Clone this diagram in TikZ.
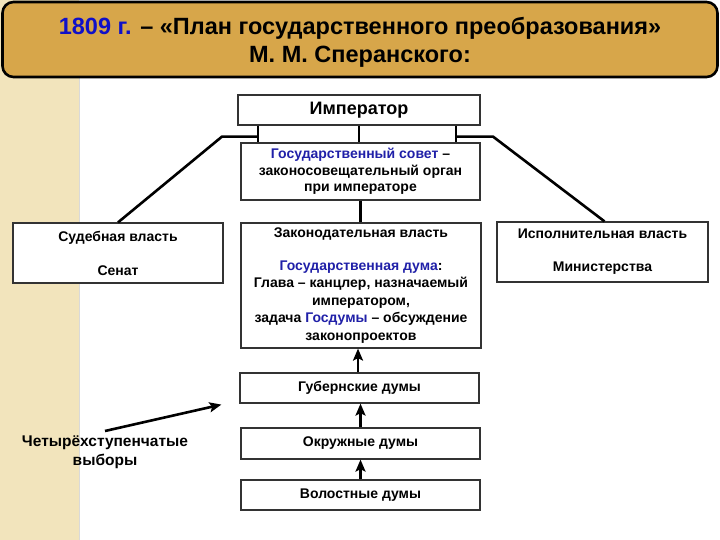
\documentclass[tikz,border=0pt]{standalone}
\usepackage{fontspec}
\setmainfont{Liberation Sans}
\usetikzlibrary{arrows.meta,calc}
\definecolor{stripe}{HTML}{F2E4BC}
\definecolor{gold}{HTML}{D7A64A}
\definecolor{tblue}{HTML}{1010C8}
\definecolor{dblue}{HTML}{2020A8}
\tikzset{
  box/.style={draw=black!80, line width=1.2pt, fill=white, align=center,
    font=\fontsize{14}{17}\selectfont\bfseries, inner sep=0pt},
  conn/.style={line width=2.6pt, black},
  arr/.style={line width=2.6pt, black, -{Stealth[length=12pt,width=10pt,inset=2.5pt]}},
}
\begin{document}
\begin{tikzpicture}[x=1pt,y=-1pt]
\useasboundingbox (0,0) rectangle (720,540);
\fill[stripe] (0,0) rectangle (79,540);
\draw[black!15] (79,78) -- (79,540);
% title
\node[draw=black, line width=2.6pt, fill=gold, rounded corners=11pt,
  minimum width=715pt, minimum height=75pt, inner sep=0pt] (title) at (360,39.5) {};
\node[align=center, inner sep=0pt, font=\fontsize{23.5}{28}\selectfont\bfseries] (ttext) at (360,42.5)
  {\textcolor{tblue}{1809 г.} – «План государственного преобразования»\\М. М. Сперанского:};
% boxes
\node[box, minimum width=242pt, minimum height=30pt, font=\fontsize{18}{20}\selectfont\bfseries] (emp) at (359,110) {Император};
\node[box, minimum width=239pt, minimum height=57pt, font=\fontsize{14}{16.5}\selectfont\bfseries] (gs) at (360.5,171.5)
  {\textcolor{dblue}{Государственный совет} –\\законосовещательный орган\\при императоре};
\node[box, minimum width=210pt, minimum height=60pt] (jud) at (118,253)
  {Судебная власть\\[17pt]Сенат};
\node[box, minimum width=211pt, minimum height=60pt] (exe) at (602.5,252)
  {Исполнительная власть\\[16pt]Министерства};
\node[box, minimum width=240pt, minimum height=125pt, font=\fontsize{14}{17.5}\selectfont\bfseries] (leg) at (361,285.5)
  {Законодательная власть\\[15pt]\textcolor{dblue}{Государственная дума}:\\Глава – канцлер, назначаемый\\императором,\\задача \textcolor{dblue}{Госдумы} – обсуждение\\законопроектов};
\node[box, minimum width=239pt, minimum height=30pt] (gub) at (359.5,388) {Губернские думы};
\node[box, minimum width=239pt, minimum height=31pt] (okr) at (360.5,443.5) {Окружные думы};
\node[box, minimum width=239pt, minimum height=30pt] (vol) at (360.5,495) {Волостные думы};
\node[align=center, font=\fontsize{15.5}{19}\selectfont\bfseries] (lbl) at (105,452)
  {Четырёхступенчатые\\выборы};
% connectors
\coordinate (lt) at ([xshift=-101pt]emp.south);
\coordinate (rt) at ([xshift=97pt]emp.south);
\draw[conn] (lt) -- (lt |- gs.north);
\draw[conn] (emp.south) -- (emp.south |- gs.north);
\draw[conn] (rt) -- (rt |- gs.north);
\coordinate (lh) at ($(lt)+(0,11)$);
\coordinate (rh) at ($(rt)+(0,11)$);
\draw[conn, line join=round] (lh) -- ++(-36,0) -- (jud.north);
\draw[conn, line join=round] (rh) -- ++(37,0) -- ([xshift=2pt]exe.north);
\draw[conn] (gs.south) -- (gs.south |- leg.north);
\draw[arr] ([xshift=-1.5pt]gub.north) -- ([xshift=-1.5pt]gub.north |- leg.south);
\draw[arr] (okr.north) -- (okr.north |- gub.south);
\draw[arr] (vol.north) -- (vol.north |- okr.south);
\coordinate (la) at ($(lbl.north)+(0,-1)$);
\draw[arr] (la) -- ($(gub.south west)+(-18,1)$);
\end{tikzpicture}
\end{document}
